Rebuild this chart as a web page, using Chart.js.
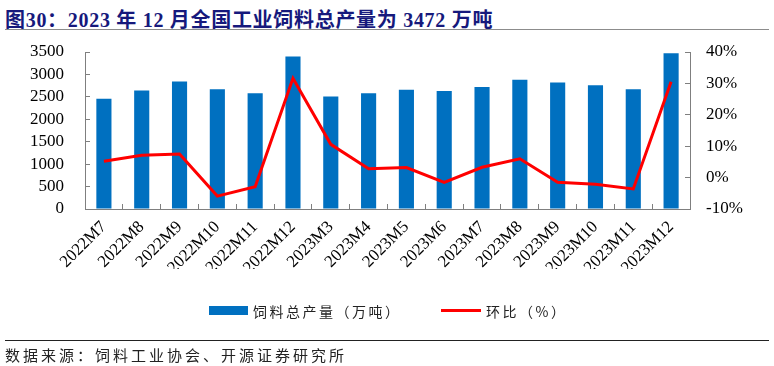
<!DOCTYPE html>
<html>
<head>
<meta charset="utf-8">
<script src="https://cdn.jsdelivr.net/npm/chart.js@4"></script>
<style>
    body { margin: 0; background: #fff; }
    #wrap { position: relative; width: 774px; height: 366px; overflow: hidden; }
    #chart { position: absolute; left: 0; top: 0; }
    .title {
        position: absolute; left: 5px; top: 4px; white-space: nowrap;
        font: bold 20px "Liberation Serif", "Noto Sans CJK SC", serif;
        letter-spacing: 0.7px; color: #16197c;
    }
    .rule { position: absolute; left: 5px; width: 764px; height: 1px; }
    .legend-item { position: absolute; top: 301px; white-space: nowrap;
        font: 14px "Noto Sans CJK SC", sans-serif; letter-spacing: 2.5px; color: #222; }
    .swatch { position: absolute; }
    .source { position: absolute; left: 5px; top: 344px; white-space: nowrap;
        font: 15px "Noto Sans CJK SC", sans-serif; letter-spacing: 3px; color: #222; }
</style>
</head>
<body>
<div id="wrap">
    <div class="title">图30：2023 年 12 月全国工业饲料总产量为 3472 万吨</div>
    <div class="rule" style="top:29px;background:#8c8c8c;"></div>
    <canvas id="chart" width="774" height="366"></canvas>
    <div class="swatch" style="left:209px;top:306px;width:39px;height:9px;background:#0070c0;"></div>
    <div class="legend-item" style="left:253px;">饲料总产量（万吨）</div>
    <div class="swatch" style="left:441px;top:309px;width:40px;height:3px;background:#ff0000;"></div>
    <div class="legend-item" style="left:486px;">环比（%）</div>
    <div class="rule" style="top:340px;background:#222;"></div>
    <div class="source">数据来源：饲料工业协会、开源证券研究所</div>
</div>
<script>
// ==================== DATA ====================

var months = ["2022M7", "2022M8", "2022M9", "2022M10", "2022M11", "2022M12",
    "2023M3", "2023M4", "2023M5", "2023M6", "2023M7", "2023M8",
    "2023M9", "2023M10", "2023M11", "2023M12"];

// 饲料总产量（万吨）
var output = [2460, 2640, 2840, 2670, 2580, 3400, 2510, 2580,
    2660, 2630, 2720, 2880, 2820, 2760, 2670, 3472];

// 环比（%）
var momChange = [5.2, 7.1, 7.5, -5.9, -2.9, 31.6, 10.6, 2.8,
    3.2, -1.5, 3.3, 6.0, -1.5, -2.1, -3.6, 30.5];

var leftTicks = [0, 3500, 500];
var rightTicks = [-10, 40, 10];

// ==================== CHART ====================

var axisColor = "#7f7f7f";
var tickFont = { family: "Liberation Serif", size: 17 };

var ctx = document.getElementById("chart").getContext("2d");

new Chart(ctx, {
    data: {
        labels: months,
        datasets: [{
            type: "line",
            label: "环比（%）",
            data: momChange,
            yAxisID: "y2",
            borderColor: "#ff0000",
            borderWidth: 3,
            pointRadius: 0,
            tension: 0,
            order: 0
        }, {
            type: "bar",
            label: "饲料总产量（万吨）",
            data: output,
            yAxisID: "y",
            backgroundColor: "#0070c0",
            categoryPercentage: 1,
            barPercentage: 0.4,
            order: 1
        }]
    },
    options: {
        responsive: false,
        animation: false,
        layout: { padding: { top: 52, bottom: 97, left: 0, right: 0 } },
        plugins: {
            legend: { display: false },
            tooltip: { enabled: false }
        },
        scales: {
            x: {
                offset: true,
                grid: { offset: true, drawOnChartArea: false, tickLength: -5, color: axisColor },
                border: { color: axisColor },
                ticks: { font: tickFont, color: "#000", maxRotation: 45, minRotation: 45, padding: 13, autoSkip: false },
                afterFit: function(scale) { scale.height = 60; }
            },
            y: {
                position: "left",
                min: leftTicks[0],
                max: leftTicks[1],
                grid: { drawOnChartArea: false, tickLength: -5, color: axisColor },
                border: { color: axisColor },
                ticks: {
                    stepSize: leftTicks[2], font: tickFont, color: "#000", padding: 26, autoSkip: false,
                    callback: function(v) { return String(v); }
                },
                afterFit: function(scale) { scale.width = 85; }
            },
            y2: {
                position: "right",
                min: rightTicks[0],
                max: rightTicks[1],
                grid: { drawOnChartArea: false, tickLength: -5, color: axisColor },
                border: { color: axisColor },
                ticks: {
                    stepSize: rightTicks[2], font: tickFont, color: "#000", padding: 21, autoSkip: false,
                    callback: function(v) { return v + "%"; }
                },
                afterFit: function(scale) { scale.width = 84; }
            }
        }
    }
});
</script>
</body>
</html>
